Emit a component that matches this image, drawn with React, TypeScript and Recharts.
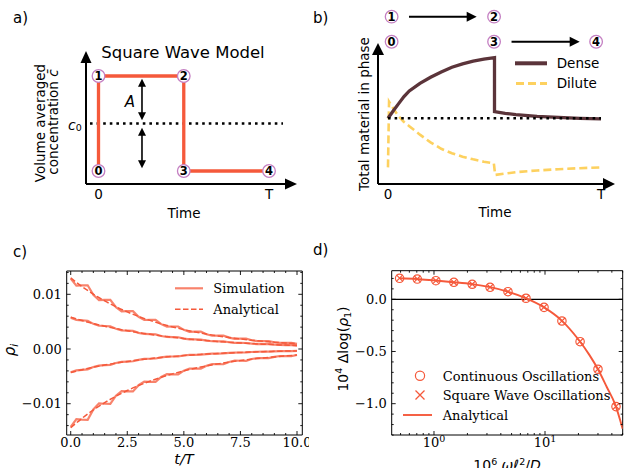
import type { JSX, ReactNode } from 'react';
import {
  ComposedChart,
  Line,
  LineChart,
  ReferenceArea,
  ReferenceDot,
  ReferenceLine,
  XAxis,
  YAxis,
} from 'recharts';

const RED = '#f5593b';
const DENSE = '#5b343a';
const DILUTE = '#fdd15f';
const RING = '#c47fc2';
const SANS = '"DejaVu Sans", sans-serif';
const SERIF = '"DejaVu Serif", serif';

// a) square wave: time in units of T, level in units of A around c0
const waveTime = [0, 0, 0.5, 0.5, 1];
const waveLevel = [-1, 1, 1, -1, -1];
const waveStep = ['0', '1', '2', '3', '4'];

// b) total material in each phase during one period (arbitrary units)
const denseTime = [0, 0.025, 0.05, 0.075, 0.1, 0.15, 0.2, 0.25, 0.3, 0.35, 0.4, 0.45, 0.5, 0.5, 0.55, 0.6, 0.7, 0.8, 0.9, 1];
const denseAmount = [0.466, 0.52, 0.57, 0.62, 0.66, 0.714, 0.757, 0.795, 0.828, 0.852, 0.871, 0.885, 0.896, 0.513, 0.501, 0.492, 0.48, 0.472, 0.466, 0.462];
const diluteTime = [0, 0.005, 0.025, 0.05, 0.075, 0.1, 0.15, 0.2, 0.25, 0.3, 0.35, 0.4, 0.45, 0.497, 0.503, 0.6, 0.7, 0.8, 0.9, 1];
const diluteAmount = [0.118, 0.584, 0.535, 0.48, 0.44, 0.41, 0.35, 0.295, 0.25, 0.218, 0.194, 0.175, 0.158, 0.147, 0.064, 0.084, 0.096, 0.105, 0.112, 0.118];
const initialAmount = 0.466;
const badgeStep = ['0', '1', '2', '3', '4'];
const badgeTime = [0.017, 0.017, 0.498, 0.498, 0.977];
const badgeRow = [1.009, 1.187, 1.187, 1.009, 1.009];

// c) rho_i, values in units of 1e-3
const simT = [0, 0.25, 0.5, 0.75, 1, 1.25, 1.5, 1.75, 2, 2.25, 2.5, 2.75, 3, 3.25, 3.5, 3.75, 4, 4.25, 4.5, 4.75, 5, 5.25, 5.5, 5.75, 6, 6.25, 6.5, 6.75, 7, 7.25, 7.5, 7.75, 8, 8.25, 8.5, 8.75, 9, 9.25, 9.5, 9.75, 10];
const sim1 = [12.87, 11.57, 11.64, 11.65, 9.92, 8.92, 8.98, 8.98, 7.64, 6.88, 6.92, 6.92, 5.89, 5.3, 5.33, 5.34, 4.54, 4.09, 4.11, 4.11, 3.5, 3.14, 3.16, 3.17, 2.7, 2.42, 2.44, 2.44, 2.08, 1.87, 1.88, 1.89, 1.6, 1.44, 1.45, 1.45, 1.24, 1.11, 1.11, 1.12, 0.95];
const sim2 = [5.74, 5.33, 5.25, 5.17, 4.6, 4.27, 4.21, 4.14, 3.69, 3.42, 3.37, 3.32, 2.96, 2.75, 2.71, 2.67, 2.38, 2.2, 2.17, 2.14, 1.91, 1.77, 1.75, 1.71, 1.53, 1.42, 1.39, 1.38, 1.23, 1.13, 1.12, 1.1, 0.98, 0.91, 0.9, 0.88, 0.79, 0.73, 0.72, 0.71, 0.63];
const sim3 = [-4.26, -3.91, -3.82, -3.73, -3.3, -3.03, -2.96, -2.89, -2.55, -2.35, -2.29, -2.24, -1.98, -1.81, -1.78, -1.73, -1.53, -1.41, -1.37, -1.34, -1.19, -1.09, -1.06, -1.04, -0.92, -0.84, -0.83, -0.81, -0.71, -0.65, -0.64, -0.62, -0.55, -0.5, -0.49, -0.48, -0.43, -0.39, -0.38, -0.38, -0.33];
const sim4 = [-14.26, -12.83, -12.92, -12.95, -11.04, -9.93, -10.01, -10.03, -8.54, -7.69, -7.74, -7.76, -6.61, -5.95, -6.0, -6.01, -5.12, -4.61, -4.64, -4.65, -3.96, -3.56, -3.59, -3.6, -3.07, -2.76, -2.77, -2.79, -2.38, -2.14, -2.15, -2.16, -1.83, -1.65, -1.66, -1.67, -1.43, -1.28, -1.29, -1.29, -1.1];
const anaT = [0, 0.5, 1, 1.5, 2, 2.5, 3, 3.5, 4, 4.5, 5, 5.5, 6, 6.5, 7, 7.5, 8, 8.5, 9, 9.5, 10];
const ana1 = [13.0, 11.41, 10.02, 8.8, 7.72, 6.78, 5.95, 5.23, 4.59, 4.03, 3.54, 3.1, 2.73, 2.39, 2.1, 1.84, 1.62, 1.42, 1.25, 1.09, 0.96];
const ana2 = [5.8, 5.2, 4.65, 4.17, 3.73, 3.34, 2.99, 2.68, 2.4, 2.15, 1.93, 1.73, 1.55, 1.38, 1.24, 1.11, 0.99, 0.89, 0.8, 0.71, 0.64];
const ana3 = [-4.3, -3.78, -3.33, -2.93, -2.58, -2.27, -2.0, -1.76, -1.55, -1.36, -1.2, -1.05, -0.93, -0.82, -0.72, -0.63, -0.56, -0.49, -0.43, -0.38, -0.33];
const ana4 = [-14.4, -12.67, -11.15, -9.81, -8.63, -7.59, -6.68, -5.88, -5.17, -4.55, -4.0, -3.52, -3.1, -2.72, -2.4, -2.11, -1.85, -1.63, -1.44, -1.26, -1.11];
const cXMajor = [0, 2.5, 5, 7.5, 10];
const cXMinor = [0.5, 1, 1.5, 2, 3, 3.5, 4, 4.5, 5.5, 6, 6.5, 7, 8, 8.5, 9, 9.5];
const cYMajor = [-10, 0, 10];
const cYMinor = [-14, -12, -8, -6, -4, -2, 2, 4, 6, 8, 12, 14];

// d) 1e4 * shift of log(rho_1) against 1e6 * omega l^2 / D
const freq = [0.49, 0.707, 1.04, 1.51, 2.21, 3.2, 4.64, 6.74, 9.8, 14.2, 20.7, 30.0, 43.6];
const continuousShift = [0.201, 0.194, 0.178, 0.163, 0.144, 0.115, 0.073, 0.01, -0.077, -0.208, -0.406, -0.67, -1.028];
const squareShift = [0.203, 0.195, 0.179, 0.163, 0.145, 0.116, 0.074, 0.011, -0.076, -0.207, -0.404, -0.668, -1.025];
const analyticFreq = [0.49, 0.7, 1.0, 1.5, 2.2, 3.2, 4.6, 6.7, 9.8, 14, 20, 25, 30, 36, 43, 50];
const analyticShift = [0.202, 0.195, 0.181, 0.164, 0.145, 0.116, 0.074, 0.011, -0.077, -0.199, -0.385, -0.53, -0.67, -0.84, -1.012, -1.24];
const dXMajor = [1, 10];
const dXExponent = ['0', '1'];
const dXMinor = [0.5, 0.6, 0.7, 0.8, 0.9, 2, 3, 4, 5, 6, 7, 8, 9, 20, 30, 40, 50];
const dYMajor = [-1, -0.5, 0];
const dYMinor = [-1.3, -1.2, -1.1, -0.9, -0.8, -0.7, -0.6, -0.4, -0.3, -0.2, -0.1, 0.1, 0.2];

interface Row {
  x: number;
  y: number;
  step?: string;
}

function rows(xs: readonly number[], ys: readonly number[]): Row[] {
  return xs.map((x, i) => ({ x, y: ys[i] }));
}

interface ShapeProps {
  x1?: number;
  y1?: number;
  x2?: number;
  y2?: number;
  cx?: number;
  cy?: number;
  index?: number;
  payload?: Row;
}

function arrowShape(head: number, half: number, width: number, both: boolean) {
  return function ArrowLine(p: ShapeProps): JSX.Element {
    const x1 = Number(p.x1);
    const y1 = Number(p.y1);
    const x2 = Number(p.x2);
    const y2 = Number(p.y2);
    const len = Math.hypot(x2 - x1, y2 - y1) || 1;
    const ux = (x2 - x1) / len;
    const uy = (y2 - y1) / len;
    const tri = (tx: number, ty: number, sx: number, sy: number): string =>
      `${tx},${ty} ${tx - sx * head - sy * half},${ty - sy * head + sx * half} ${tx - sx * head + sy * half},${ty - sy * head - sx * half}`;
    return (
      <g>
        <line
          x1={both ? x1 + ux * head * 0.7 : x1}
          y1={both ? y1 + uy * head * 0.7 : y1}
          x2={x2 - ux * head * 0.7}
          y2={y2 - uy * head * 0.7}
          stroke="#000"
          strokeWidth={width}
        />
        <polygon points={tri(x2, y2, ux, uy)} fill="#000" />
        {both && <polygon points={tri(x1, y1, -ux, -uy)} fill="#000" />}
      </g>
    );
  };
}

function Badge({ cx, cy, label }: { cx: number; cy: number; label: string }): JSX.Element {
  return (
    <g>
      <circle cx={cx} cy={cy} r={6.3} fill="#fff" stroke={RING} strokeWidth={1.3} />
      <text x={cx} y={cy} dy="0.36em" textAnchor="middle" fontFamily={SANS} fontWeight="bold" fontSize={11.5} fill="#000">
        {label}
      </text>
    </g>
  );
}

function bottomTicks(majors: readonly number[], plotHeight: number, label: (v: number) => ReactNode) {
  return function BottomTick({ x = 0, y = 0, payload }: { x?: number; y?: number; payload?: { value: number } }): JSX.Element {
    const value = payload ? payload.value : 0;
    const major = majors.includes(value);
    const len = major ? 4 : 2;
    return (
      <g>
        <line x1={x} x2={x} y1={y} y2={y - len} stroke="#000" strokeWidth={0.9} />
        <line x1={x} x2={x} y1={y - plotHeight} y2={y - plotHeight + len} stroke="#000" strokeWidth={0.9} />
        {major && (
          <text x={x} y={y + 2.5} dy="0.75em" textAnchor="middle" fontFamily={SERIF} fontSize={13} fill="#000">
            {label(value)}
          </text>
        )}
      </g>
    );
  };
}

function leftTicks(majors: readonly number[], plotWidth: number, label: (v: number) => string) {
  return function LeftTick({ x = 0, y = 0, payload }: { x?: number; y?: number; payload?: { value: number } }): JSX.Element {
    const value = payload ? payload.value : 0;
    const major = majors.includes(value);
    const len = major ? 4 : 2;
    return (
      <g>
        <line x1={x} x2={x + len} y1={y} y2={y} stroke="#000" strokeWidth={0.9} />
        <line x1={x + plotWidth} x2={x + plotWidth - len} y1={y} y2={y} stroke="#000" strokeWidth={0.9} />
        {major && (
          <text x={x - 5} y={y} dy="0.36em" textAnchor="end" fontFamily={SERIF} fontSize={13} fill="#000">
            {label(value)}
          </text>
        )}
      </g>
    );
  };
}

const minus = (s: string): string => s.replace('-', '\u2212');

// ---------- panel a ----------
const aX: [number, number] = [-0.0733, 1.164];
const aY: [number, number] = [-1.274, 1.526];

function PanelA(): JSX.Element {
  const data: Row[] = waveTime.map((x, i) => ({ x, y: waveLevel[i], step: waveStep[i] }));
  return (
    <LineChart width={312} height={230} margin={{ top: 51, right: 15, bottom: 26, left: 86 }}>
      <XAxis
        type="number"
        dataKey="x"
        domain={aX}
        allowDataOverflow
        ticks={[0, 1]}
        interval={0}
        tickFormatter={(v: number) => (v === 0 ? '0' : 'T')}
        axisLine={false}
        tickLine={false}
        tickSize={0}
        tickMargin={5}
        height={20}
        tick={{ fill: '#000', fontSize: 13.5, fontFamily: SANS }}
      />
      <YAxis type="number" domain={aY} allowDataOverflow hide />
      <ReferenceLine
        segment={[{ x: aX[0], y: aY[0] }, { x: aX[1], y: aY[0] }]}
        ifOverflow="visible"
        shape={arrowShape(12, 5.5, 2, false)}
      />
      <ReferenceLine
        segment={[{ x: aX[0], y: aY[0] }, { x: aX[0], y: aY[1] }]}
        ifOverflow="visible"
        shape={arrowShape(12, 5.5, 2, false)}
      />
      <ReferenceLine
        segment={[{ x: -0.05, y: 0 }, { x: 1.082, y: 0 }]}
        ifOverflow="visible"
        stroke="#000"
        strokeWidth={2.4}
        strokeDasharray="2.6 4"
      />
      <ReferenceLine
        segment={[{ x: 0.255, y: 0.07 }, { x: 0.255, y: 0.94 }]}
        ifOverflow="visible"
        shape={arrowShape(8, 4, 1.6, true)}
      />
      <ReferenceLine
        segment={[{ x: 0.255, y: -0.94 }, { x: 0.255, y: -0.09 }]}
        ifOverflow="visible"
        shape={arrowShape(8, 4, 1.6, true)}
      />
      <Line
        data={data}
        dataKey="y"
        type="linear"
        stroke={RED}
        strokeWidth={3.3}
        isAnimationActive={false}
        activeDot={false}
        dot={(p: ShapeProps) => (
          <Badge key={`a${p.index}`} cx={Number(p.cx)} cy={Number(p.cy)} label={p.payload?.step ?? ''} />
        )}
      />
    </LineChart>
  );
}

// ---------- panel b ----------
const bX: [number, number] = [-0.0469, 1.0657];
const bY: [number, number] = [0, 1];

function PanelB(): JSX.Element {
  return (
    <LineChart width={312} height={230} margin={{ top: 43, right: 9, bottom: 26, left: 66 }}>
      <XAxis
        type="number"
        dataKey="x"
        domain={bX}
        allowDataOverflow
        ticks={[0, 1]}
        interval={0}
        tickFormatter={(v: number) => (v === 0 ? '0' : 'T')}
        axisLine={false}
        tickLine={false}
        tickSize={0}
        tickMargin={5}
        height={20}
        tick={{ fill: '#000', fontSize: 13.5, fontFamily: SANS }}
      />
      <YAxis type="number" domain={bY} allowDataOverflow hide />
      <ReferenceLine
        segment={[{ x: bX[0], y: 0 }, { x: bX[1], y: 0 }]}
        ifOverflow="visible"
        shape={arrowShape(12, 6, 2, false)}
      />
      <ReferenceLine
        segment={[{ x: bX[0], y: 0 }, { x: bX[0], y: 1 }]}
        ifOverflow="visible"
        shape={arrowShape(12, 6, 2, false)}
      />
      <Line
        data={rows(diluteTime, diluteAmount)}
        dataKey="y"
        type="linear"
        stroke={DILUTE}
        strokeWidth={2.6}
        strokeDasharray="8 4"
        dot={false}
        activeDot={false}
        isAnimationActive={false}
      />
      <Line
        data={rows(denseTime, denseAmount)}
        dataKey="y"
        type="linear"
        stroke={DENSE}
        strokeWidth={3.3}
        dot={false}
        activeDot={false}
        isAnimationActive={false}
      />
      <ReferenceLine
        segment={[{ x: 0, y: initialAmount }, { x: 1, y: initialAmount }]}
        ifOverflow="visible"
        stroke="#000"
        strokeWidth={2.4}
        strokeDasharray="2.6 4"
      />
      <ReferenceLine
        segment={[{ x: 0.0986, y: 1.187 }, { x: 0.4165, y: 1.187 }]}
        ifOverflow="visible"
        shape={arrowShape(10, 5, 2, false)}
      />
      <ReferenceLine
        segment={[{ x: 0.58, y: 1.009 }, { x: 0.9, y: 1.009 }]}
        ifOverflow="visible"
        shape={arrowShape(10, 5, 2, false)}
      />
      {badgeStep.map((s, i) => (
        <ReferenceDot
          key={`b${s}`}
          x={badgeTime[i]}
          y={badgeRow[i]}
          r={6.3}
          ifOverflow="visible"
          shape={(p: ShapeProps) => <Badge cx={Number(p.cx)} cy={Number(p.cy)} label={s} />}
        />
      ))}
    </LineChart>
  );
}

// ---------- panel c ----------
const cXDomain: [number, number] = [-0.177, 10.234];
const cYDomain: [number, number] = [-15.72, 14.26];

function PanelC(): JSX.Element {
  const sims = [sim1, sim2, sim3, sim4];
  const anas = [ana1, ana2, ana3, ana4];
  return (
    <LineChart width={309} height={238} margin={{ top: 41, right: 6.7, bottom: 9, left: 16.7 }}>
      <XAxis
        type="number"
        dataKey="x"
        domain={cXDomain}
        allowDataOverflow
        ticks={[...cXMajor, ...cXMinor]}
        interval={0}
        tick={bottomTicks(cXMajor, 164, (v) => v.toFixed(1))}
        axisLine={false}
        tickLine={false}
        tickSize={0}
        tickMargin={0}
        height={24}
      />
      <YAxis
        type="number"
        domain={cYDomain}
        allowDataOverflow
        ticks={[...cYMajor, ...cYMinor]}
        interval={0}
        tick={leftTicks(cYMajor, 235.6, (v) => minus((v / 1000).toFixed(2)))}
        axisLine={false}
        tickLine={false}
        tickSize={0}
        tickMargin={0}
        width={50}
      />
      <ReferenceArea
        x1={cXDomain[0]}
        x2={cXDomain[1]}
        y1={cYDomain[0]}
        y2={cYDomain[1]}
        fill="none"
        stroke="#000"
        strokeWidth={1}
        ifOverflow="visible"
      />
      {sims.map((s, i) => (
        <Line
          key={`sim${i}`}
          data={rows(simT, s)}
          dataKey="y"
          type="linear"
          stroke={RED}
          strokeOpacity={0.75}
          strokeWidth={2.2}
          dot={false}
          activeDot={false}
          isAnimationActive={false}
        />
      ))}
      {anas.map((s, i) => (
        <Line
          key={`ana${i}`}
          data={rows(anaT, s)}
          dataKey="y"
          type="monotone"
          stroke={RED}
          strokeWidth={1.5}
          strokeDasharray="5.5 2.5"
          dot={false}
          activeDot={false}
          isAnimationActive={false}
        />
      ))}
    </LineChart>
  );
}

// ---------- panel d ----------
const dXDomain: [number, number] = [0.416, 50.1];
const dYDomain: [number, number] = [-1.3, 0.274];

function PanelD(): JSX.Element {
  return (
    <ComposedChart width={312} height={238} margin={{ top: 40.7, right: 1.3, bottom: 9, left: 19.7 }}>
      <XAxis
        type="number"
        dataKey="x"
        scale="log"
        domain={dXDomain}
        allowDataOverflow
        ticks={[...dXMajor, ...dXMinor]}
        interval={0}
        tick={bottomTicks(dXMajor, 164.3, (v) => (
          <>
            <tspan>10</tspan>
            <tspan dy={-5} fontSize={9.5}>
              {dXExponent[dXMajor.indexOf(v)]}
            </tspan>
          </>
        ))}
        axisLine={false}
        tickLine={false}
        tickSize={0}
        tickMargin={0}
        height={24}
      />
      <YAxis
        type="number"
        domain={dYDomain}
        allowDataOverflow
        ticks={[...dYMajor, ...dYMinor]}
        interval={0}
        tick={leftTicks(dYMajor, 231, (v) => minus(v.toFixed(1)))}
        axisLine={false}
        tickLine={false}
        tickSize={0}
        tickMargin={0}
        width={60}
      />
      <ReferenceArea
        x1={dXDomain[0]}
        x2={dXDomain[1]}
        y1={dYDomain[0]}
        y2={dYDomain[1]}
        fill="none"
        stroke="#000"
        strokeWidth={1}
        ifOverflow="visible"
      />
      <ReferenceLine y={0} stroke="#000" strokeWidth={1.3} />
      <Line
        data={rows(analyticFreq, analyticShift)}
        dataKey="y"
        type="monotone"
        stroke={RED}
        strokeWidth={1.9}
        dot={false}
        activeDot={false}
        isAnimationActive={false}
      />
      <Line
        data={rows(freq, continuousShift)}
        dataKey="y"
        stroke="none"
        isAnimationActive={false}
        activeDot={false}
        dot={(p: ShapeProps) => (
          <circle key={`c${p.index}`} cx={p.cx} cy={p.cy} r={4.2} fill="none" stroke={RED} strokeWidth={1.2} />
        )}
      />
      <Line
        data={rows(freq, squareShift)}
        dataKey="y"
        stroke="none"
        isAnimationActive={false}
        activeDot={false}
        dot={(p: ShapeProps) => {
          const cx = Number(p.cx);
          const cy = Number(p.cy);
          return (
            <path
              key={`s${p.index}`}
              d={`M${cx - 3.2},${cy - 3.2}L${cx + 3.2},${cy + 3.2}M${cx - 3.2},${cy + 3.2}L${cx + 3.2},${cy - 3.2}`}
              stroke={RED}
              strokeWidth={1.2}
            />
          );
        }}
      />
    </ComposedChart>
  );
}

function Annotations(): JSX.Element {
  return (
    <svg width={624} height={468} style={{ position: 'absolute', left: 0, top: 0, pointerEvents: 'none' }}>
      <g fontFamily={SANS} fill="#000">
        <text x={13} y={23} fontSize={15}>a)</text>
        <text x={313} y={23} fontSize={15}>b)</text>
        <text x={13} y={257} fontSize={15}>c)</text>
        <text x={313} y={255} fontSize={15}>d)</text>

        <text x={183} y={58} fontSize={16.5} textAnchor="middle">Square Wave Model</text>
        <text x={44.5} y={123} fontSize={13.5} textAnchor="middle" transform="rotate(-90 44.5 123)">
          Volume averaged
        </text>
        <text x={58} y={122} fontSize={13.5} textAnchor="middle" transform="rotate(-90 58 122)">
          concentration <tspan fontStyle="italic">{'c\u0304'}</tspan>
        </text>
        <text x={68} y={129.5} fontSize={14}>
          <tspan fontStyle="italic">c</tspan>
          <tspan fontSize={9.5} dy={1.5}>0</tspan>
        </text>
        <text x={130} y={107} fontSize={15} fontStyle="italic" textAnchor="middle">A</text>
        <text x={184} y={218} fontSize={13.5} textAnchor="middle">Time</text>

        <text x={368.5} y={114} fontSize={13.5} textAnchor="middle" transform="rotate(-90 368.5 114)">
          Total material in phase
        </text>
        <text x={495} y={217} fontSize={13.5} textAnchor="middle">Time</text>
        <line x1={515} x2={547} y1={63.3} y2={63.3} stroke={DENSE} strokeWidth={4} />
        <text x={556.7} y={68} fontSize={13.5}>Dense</text>
        <line x1={516} x2={547} y1={83.5} y2={83.5} stroke={DILUTE} strokeWidth={2.8} strokeDasharray="8 4" />
        <text x={556.7} y={88} fontSize={13.5}>Dilute</text>

        <text x={15} y={350} fontSize={15} textAnchor="middle" transform="rotate(-90 15 350)">
          <tspan fontStyle="italic">ρ</tspan>
          <tspan fontSize={10.5} fontStyle="italic" dy={3}>i</tspan>
        </text>
        <text x={184} y={464} fontSize={14.5} fontStyle="italic" textAnchor="middle">t/T</text>
        <line x1={175} x2={203} y1={288.3} y2={288.3} stroke={RED} strokeOpacity={0.75} strokeWidth={2.2} />
        <text x={213.3} y={293} fontSize={13} fontFamily={SERIF}>Simulation</text>
        <line x1={175} x2={203} y1={309.3} y2={309.3} stroke={RED} strokeWidth={1.5} strokeDasharray="5.5 2.5" />
        <text x={213.3} y={313.5} fontSize={13} fontFamily={SERIF}>Analytical</text>

        <text x={347.5} y={349} fontSize={14} textAnchor="middle" transform="rotate(-90 347.5 349)">
          <tspan>10</tspan>
          <tspan fontSize={9.5} dy={-5.5}>4</tspan>
          <tspan dy={5.5}> Δlog(</tspan>
          <tspan fontStyle="italic">ρ</tspan>
          <tspan fontSize={9.5} dy={3}>1</tspan>
          <tspan dy={-3}>)</tspan>
        </text>
        <text x={507} y={470} fontSize={14} textAnchor="middle">
          <tspan>10</tspan>
          <tspan fontSize={9.5} dy={-5.5}>6</tspan>
          <tspan dy={5.5} fontStyle="italic"> ωℓ</tspan>
          <tspan fontSize={9.5} dy={-5.5}>2</tspan>
          <tspan dy={5.5}>/</tspan>
          <tspan fontStyle="italic">D</tspan>
        </text>
        <circle cx={420} cy={375.7} r={4.6} fill="none" stroke={RED} strokeWidth={1.2} />
        <path d="M415.5,390.5L424.5,399.5M415.5,399.5L424.5,390.5" stroke={RED} strokeWidth={1.3} />
        <line x1={403} x2={432} y1={415} y2={415} stroke={RED} strokeWidth={1.9} />
        <text x={442.7} y={380.5} fontSize={13} fontFamily={SERIF}>Continuous Oscillations</text>
        <text x={442.7} y={399.7} fontSize={13} fontFamily={SERIF}>Square Wave Oscillations</text>
        <text x={442.7} y={419.5} fontSize={13} fontFamily={SERIF}>Analytical</text>
      </g>
    </svg>
  );
}

export default function App(): JSX.Element {
  return (
    <div
      style={{
        position: 'absolute',
        left: 0,
        top: 0,
        width: 624,
        height: 468,
        background: '#fff',
        overflow: 'hidden',
        fontFamily: SANS,
      }}
    >
      <div style={{ position: 'absolute', left: 0, top: 0 }}>
        <PanelA />
      </div>
      <div style={{ position: 'absolute', left: 312, top: 0 }}>
        <PanelB />
      </div>
      <div style={{ position: 'absolute', left: 0, top: 230 }}>
        <PanelC />
      </div>
      <div style={{ position: 'absolute', left: 312, top: 230 }}>
        <PanelD />
      </div>
      <Annotations />
    </div>
  );
}
